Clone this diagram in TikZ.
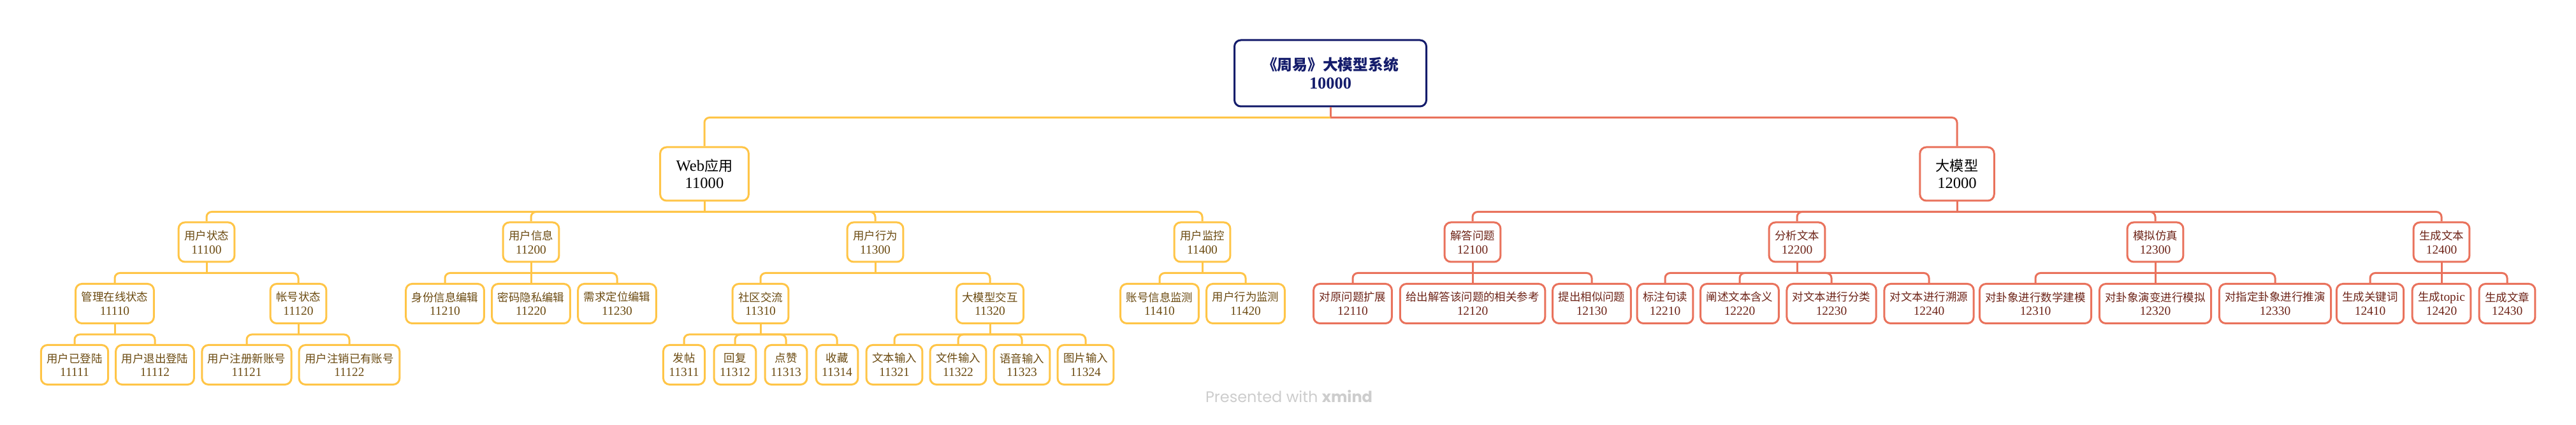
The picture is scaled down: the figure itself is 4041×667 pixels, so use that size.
\documentclass[tikz,border=0pt]{standalone}
\usepackage{fontspec}
\setmainfont{Liberation Serif}
\newfontfamily\cjk[Scale=0.9]{Noto Sans CJK SC}
\newfontfamily\wmfont{Poppins}
\usepackage{xcolor}
\definecolor{navy}{HTML}{141C6B}
\definecolor{gold}{HTML}{FFC547}
\definecolor{goldtext}{HTML}{6B4A10}
\definecolor{coral}{HTML}{E9725C}
\definecolor{coraltext}{HTML}{6E2418}
\definecolor{markgray}{HTML}{CDCDCD}
\newcommand{\tx}[2]{{\cjk #1}\\#2}

\tikzset{
	box/.style={draw, rounded corners=5pt, line width=1.5pt, fill=white, align=center,
		inner xsep=4.5pt, inner ysep=0pt, minimum height=31pt,
		font=\fontsize{9.7pt}{10.8pt}\selectfont},
	webbox/.style={box, draw=gold, text=goldtext},
	llmbox/.style={box, draw=coral, text=coraltext},
	mainbox/.style={box, text=black, inner xsep=12.5pt, minimum height=42pt,
		font=\fontsize{12.3pt}{13.5pt}\selectfont},
	rootbox/.style={box, draw=navy, text=navy, inner xsep=21.8pt, minimum height=52pt,
		font=\fontsize{13.2pt}{14.5pt}\selectfont\bfseries},
	webline/.style={draw=gold, line width=1.5pt, rounded corners=4pt},
	llmline/.style={draw=coral, line width=1.5pt, rounded corners=4pt}
}

\begin{document}
\begin{tikzpicture}[x=0.5pt,y=-0.5pt]
		\fill[white] (0,0) rectangle (4041,667);
		\useasboundingbox (0,0) rectangle (4041,667);
		
		% root and the two main branches
		\node[rootbox] (n10000) at (2087,115) {\tx{《周易》大模型系统}{10000}};
		\node[mainbox, draw=gold] (n11000) at (1105,273) {\tx{{\rmfamily Web}应用}{11000}};
		\node[mainbox, draw=coral] (n12000) at (3070,273) {\tx{大模型}{12000}};
		
		% Web side
		\foreach \x/\n/\t in {324/11100/用户状态, 833/11200/用户信息, 1373/11300/用户行为, 1886/11400/用户监控}
		{
		\node[webbox] (n\n) at (\x,380) {\tx{\t}{\n}};
		}
		\foreach \x/\n/\t in {180/11110/管理在线状态, 468/11120/帐号状态, 698/11210/身份信息编辑,
			833/11220/密码隐私编辑, 968/11230/需求定位编辑, 1193/11310/社区交流, 1553/11320/大模型交互,
			1819/11410/账号信息监测, 1954/11420/用户行为监测}
		{
		\node[webbox] (n\n) at (\x,476.5) {\tx{\t}{\n}};
		}
		\foreach \x/\n/\t in {117/11111/用户已登陆, 243/11112/用户退出登陆, 387/11121/用户注册新账号,
			548/11122/用户注销已有账号, 1073/11311/发帖, 1153/11312/回复, 1233/11313/点赞, 1313/11314/收藏,
			1403/11321/文本输入, 1503/11322/文件输入, 1603/11323/语音输入, 1703/11324/图片输入}
		{
		\node[webbox] (n\n) at (\x,572.5) {\tx{\t}{\n}};
		}
		
		% model side
		\foreach \x/\n/\t in {2310/12100/解答问题, 2819/12200/分析文本, 3381/12300/模拟仿真, 3830/12400/生成文本}
		{
		\node[llmbox] (n\n) at (\x,380) {\tx{\t}{\n}};
		}
		\foreach \x/\n/\t in {2122/12110/对原问题扩展, 2310/12120/给出解答该问题的相关参考, 2497/12130/提出相似问题,
			2612/12210/标注句读, 2729/12220/阐述文本含义, 2873/12230/对文本进行分类, 3026/12240/对文本进行溯源,
			3193/12310/对卦象进行数学建模, 3381/12320/对卦象演变进行模拟, 3569/12330/对指定卦象进行推演,
			3718/12410/生成关键词, 3830/12420/{生成{\rmfamily topic}}, 3933/12430/生成文章}
		{
		\node[llmbox] (n\n) at (\x,476.5) {\tx{\t}{\n}};
		}
		
		% connectors
		\draw[llmline] (n10000.south) -- ++(0,16) coordinate (j10000);
		\draw[webline] (j10000) -| (n11000.north);
		\draw[llmline] (j10000) -| (n12000.north);
		
		\foreach \p in {11000,11100,11110,11120,11200,11300,11310,11320,11400}
		{
		\draw[webline] (n\p.south) -- ++(0,16) coordinate (j\p);
		}
		\foreach \p/\c in {11000/11100, 11000/11200, 11000/11300, 11000/11400,
			11100/11110, 11100/11120, 11110/11111, 11110/11112, 11120/11121, 11120/11122,
			11200/11210, 11200/11220, 11200/11230, 11300/11310, 11300/11320,
			11310/11311, 11310/11312, 11310/11313, 11310/11314,
			11320/11321, 11320/11322, 11320/11323, 11320/11324, 11400/11410, 11400/11420}
		{
		\draw[webline] (j\p) -| (n\c.north);
		}
		
		\foreach \p in {12000,12100,12200,12300,12400}
		{
		\draw[llmline] (n\p.south) -- ++(0,16) coordinate (j\p);
		}
		\foreach \p/\c in {12000/12100, 12000/12200, 12000/12300, 12000/12400,
			12100/12110, 12100/12120, 12100/12130, 12200/12210, 12200/12220, 12200/12230, 12200/12240,
			12300/12310, 12300/12320, 12300/12330, 12400/12410, 12400/12420, 12400/12430}
		{
		\draw[llmline] (j\p) -| (n\c.north);
		}
		
		\node[text=markgray, font=\wmfont\fontsize{12pt}{12pt}\selectfont] (mark) at (2022,622) {Presented with \textbf{xmind}};
	\end{tikzpicture}
\end{document}
